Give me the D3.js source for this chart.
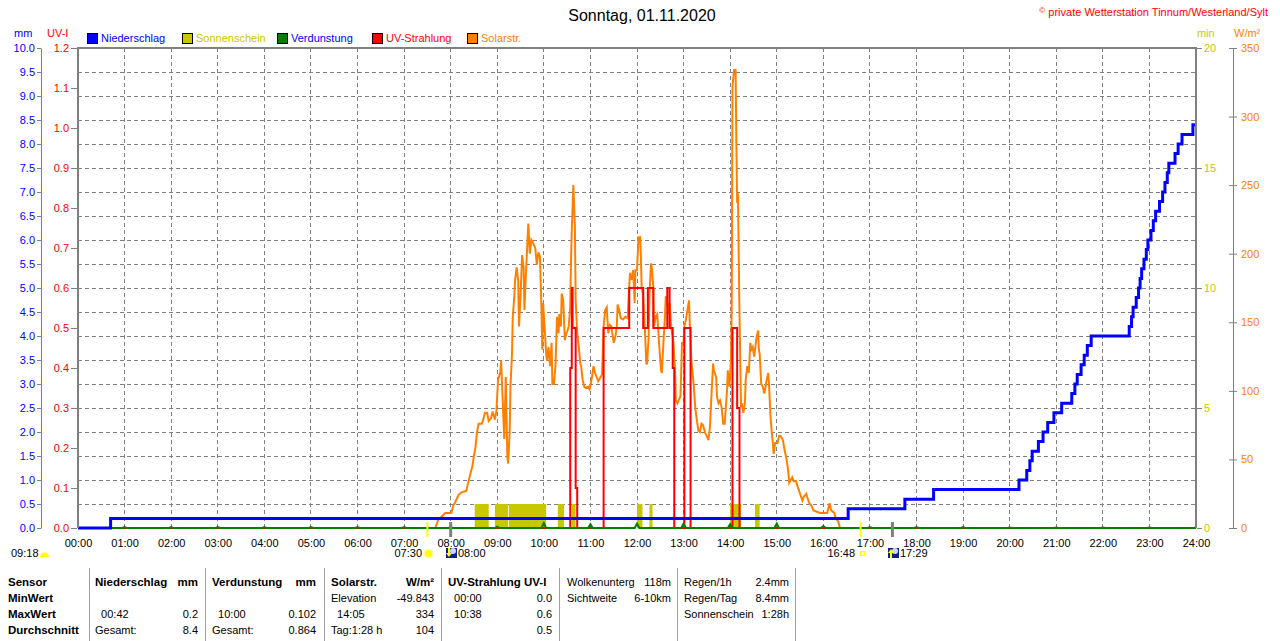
<!DOCTYPE html>
<html>
<head>
<meta charset="utf-8">
<script src="https://cdn.jsdelivr.net/npm/d3@7"></script>
<style>
body{margin:0;background:#fff}
svg{display:block;font-family:Arial,"Liberation Sans",sans-serif}
</style>
</head>
<body>
<script>
// Achsen / Ticks
const hours = d3.range(0, 25)
const mmTicks = d3.range(0, 10.01, 0.5)
const uvTicks = d3.range(0, 1.21, 0.1)
const minTicks = [0, 5, 10, 15, 20]
const wTicks = d3.range(0, 351, 50)

// Niederschlag, Summe in mm  [Minute des Tages, mm]
const rain = [[0,0],[42,0.2],[992,0.4],[1065,0.6],[1102,0.8],[1212,1.0],[1222,1.2],[1226,1.4],[1229,1.6],
  [1237,1.8],[1243,2.0],[1249,2.2],[1257,2.4],[1267,2.6],[1280,2.8],[1284,3.0],[1287,3.2],[1292,3.4],
  [1296,3.6],[1300,3.8],[1305,4.0],[1354,4.2],[1357,4.4],[1359,4.6],[1363,4.8],[1366,5.0],[1368,5.2],
  [1370,5.4],[1373,5.6],[1376,5.8],[1378,6.0],[1382,6.2],[1385,6.4],[1388,6.6],[1393,6.8],[1397,7.0],
  [1400,7.2],[1403,7.4],[1405,7.6],[1413,7.8],[1417,8.0],[1422,8.2],[1436,8.4],[1440,8.4]]

// UV-Index  [Minute, UV-I]
const uv = [[0,0],[634,0.4],[636,0.6],[637,0.5],[641,0.1],[643,0],[677,0.5],[710,0.6],[728,0.5],
  [734,0.6],[741,0.5],[759,0.6],[762,0.5],[766,0.4],[768,0],[781,0.5],[789,0],[843,0.5],[849,0.3],
  [852,0],[1440,0]]

// Verdunstung je Stunde (mm)
const evapHours = d3.range(1, 25)
const evapValues = [0.02,0.02,0.02,0.02,0.02,0.02,0.02,0.02,0.03,0.102,0.08,0.09,0.09,0.08,0.09,0.04,
  0.02,0.02,0.02,0.01,0.01,0.01,0.01,0.01]

// Sonnenschein  [von, bis, min]
const sunshine = [[511,529,1],[537,554,1],[555,603,1],[618,626,1],[636,641,1],[720,727,1],[736,740,1],
  [840,854,1],[872,878,1]]

// Solarstrahlung  [Minute, W/m²]
const solar = [[460,0],[464,6],[468,8],[473,11],[481,11],[483,16],[486,19],[490,24],[494,26],[500,27],
  [503,34],[506,41],[508,45],[510,53],[512,59],[514,70],[516,76],[520,76],[522,79],[524,84],[527,84],
  [529,78],[532,80],[534,85],[537,79],[539,86],[541,108],[544,114],[545,122],[547,93],[549,65],[550,87],
  [551,110],[553,52],[554,47],[556,69],[557,103],[559,127],[560,154],[562,169],[563,181],[565,190],
  [567,180],[568,147],[570,169],[572,199],[574,190],[575,159],[577,186],[579,210],[580,222],[582,200],
  [584,210],[586,208],[589,204],[591,192],[593,201],[595,198],[597,159],[598,130],[599,164],[601,147],
  [603,127],[604,122],[606,132],[608,118],[610,135],[611,105],[613,105],[615,118],[617,154],[619,142],
  [620,156],[622,147],[623,171],[625,166],[627,137],[629,142],[630,143],[632,147],[634,161],[635,195],
  [636,217],[638,250],[640,220],[641,166],[643,142],[645,132],[647,120],[648,118],[650,108],[652,103],
  [654,102],[657,103],[659,101],[662,110],[664,118],[666,113],[670,107],[675,112],[677,147],[679,159],
  [681,161],[683,142],[685,148],[687,147],[690,135],[692,139],[694,147],[695,163],[697,159],[699,153],
  [702,152],[705,154],[708,153],[709,166],[711,186],[713,181],[715,188],[717,164],[718,188],[720,188],
  [722,212],[724,212],[725,198],[726,176],[728,169],[730,147],[732,120],[733,120],[735,139],[736,169],
  [738,193],[739,190],[741,176],[742,147],[744,154],[746,156],[749,130],[751,115],[752,113],[754,135],
  [756,154],[757,169],[759,164],[761,156],[762,164],[764,147],[767,135],[769,115],[770,93],[772,91],
  [776,96],[778,135],[780,135],[781,147],[783,152],[785,159],[787,166],[788,149],[790,122],[793,105],
  [795,88],[797,79],[799,71],[801,70],[803,76],[805,75],[808,69],[810,67],[812,64],[814,74],[816,98],
  [818,120],[819,115],[822,110],[823,96],[825,91],[827,93],[829,88],[831,76],[833,76],[836,101],
  [837,115],[839,103],[841,122],[842,161],[843,322],[845,334],[847,334],[848,280],[849,237],[850,244],
  [852,156],[854,88],[855,91],[857,84],[859,91],[860,108],[862,118],[864,113],[866,135],[867,130],
  [869,132],[871,125],[872,130],[874,139],[876,144],[877,130],[878,127],[880,105],[882,103],[884,98],
  [885,101],[887,108],[889,113],[890,105],[892,81],[894,67],[895,62],[896,54],[898,62],[901,62],
  [903,67],[905,67],[908,64],[910,57],[912,52],[914,45],[915,40],[916,33],[918,35],[920,37],[922,34],
  [925,34],[927,30],[930,25],[933,20],[935,23],[938,25],[939,23],[942,18],[945,16],[947,13],[951,12],
  [956,11],[962,11],[965,11],[968,18],[970,13],[974,11],[976,7],[979,5],[981,1],[982,0]]

// Legende
const legendNames = ["Niederschlag", "Sonnenschein", "Verdunstung", "UV-Strahlung", "Solarstr."]
const legendBox = ["#0000ff", "#c8c800", "#008000", "#ff0000", "#ff8000"]
const legendText = ["#0000ff", "#c8c800", "#0000ff", "#ff0000", "#ff8000"]

// Tabelle unten
const tableLeft = [
  ["Sensor", "MinWert", "MaxWert", "Durchschnitt"],
  ["Niederschlag", "", "  00:42", "Gesamt:"],
  ["Verdunstung", "", "  10:00", "Gesamt:"],
  ["Solarstr.", "Elevation", "  14:05", "Tag:1:28 h"],
  ["UV-Strahlung UV-I", "  00:00", "  10:38", ""],
  ["Wolkenunterg", "Sichtweite", "", ""],
  ["Regen/1h", "Regen/Tag", "Sonnenschein", ""]
]
const tableRight = [
  ["", "", "", ""],
  ["mm", "", "0.2", "8.4"],
  ["mm", "", "0.102", "0.864"],
  ["W/m²", "-49.843", "334", "104"],
  ["", "0.0", "0.6", "0.5"],
  ["118m", "6-10km", "", ""],
  ["2.4mm", "8.4mm", "1:28h", ""]
]

const width = 1280
const height = 641
const grey = "#808080"

const svg = d3.select("body").append("svg")
  .attr("width", width)
  .attr("height", height)

const x = d3.scaleLinear().domain([0, 1440]).range([78, 1196])
const yMm = d3.scaleLinear().domain([0, 10]).range([528, 48])
const yUv = d3.scaleLinear().domain([0, 1.2]).range([528, 48])
const yMin = d3.scaleLinear().domain([0, 20]).range([528, 48])
const yW = d3.scaleLinear().domain([0, 350]).range([528, 48])

// Gitter
const grid = svg.append("g").attr("stroke", grey).attr("stroke-dasharray", "4,3")
  .attr("shape-rendering", "crispEdges")
grid.selectAll(".h").data(mmTicks.slice(1, -1)).enter().append("line")
  .attr("x1", 78).attr("x2", 1196)
  .attr("y1", d => yMm(d)).attr("y2", d => yMm(d))
grid.selectAll(".v").data(hours.slice(1, -1)).enter().append("line")
  .attr("x1", d => x(d * 60)).attr("x2", d => x(d * 60))
  .attr("y1", 48).attr("y2", 528)

// Sonnenschein
svg.append("g").selectAll("rect").data(sunshine).enter().append("rect")
  .attr("x", d => x(d[0]))
  .attr("width", d => x(d[1]) - x(d[0]))
  .attr("y", d => yMin(d[2]))
  .attr("height", d => yMin(0) - yMin(d[2]))
  .attr("fill", "#c8c800")

// Solarstrahlung
svg.append("path").datum(solar)
  .attr("d", d3.line().x(d => x(d[0])).y(d => yW(d[1])))
  .attr("fill", "none").attr("stroke", "#ff8000").attr("stroke-width", 2)

// UV
svg.append("path").datum(uv)
  .attr("d", d3.line().curve(d3.curveStepAfter).x(d => x(d[0])).y(d => yUv(d[1])))
  .attr("fill", "none").attr("stroke", "#ff0000").attr("stroke-width", 2)

// Verdunstung
const evap = [[0, 0]]
evapHours.forEach((h, i) => {
  evap.push([h * 60 - 3, 0], [h * 60, evapValues[i]], [Math.min(h * 60 + 3, 1440), 0])
})
svg.append("path").datum(evap)
  .attr("d", d3.line().x(d => x(d[0])).y(d => yMm(d[1])))
  .attr("fill", "none").attr("stroke", "#008000").attr("stroke-width", 2)

// Niederschlag
svg.append("path").datum(rain)
  .attr("d", d3.line().curve(d3.curveStepAfter).x(d => x(d[0])).y(d => yMm(d[1])))
  .attr("fill", "none").attr("stroke", "#0000ff").attr("stroke-width", 3)

// Rahmen
svg.append("path")
  .attr("d", "M78,528V48H1196V528")
  .attr("fill", "none").attr("stroke", grey).attr("stroke-width", 2)

function styleAxis(g, color, size) {
  g.attr("font-family", null).attr("font-size", size)
  g.selectAll(".tick line").attr("stroke", grey)
  g.selectAll(".domain").attr("stroke", grey)
  g.selectAll("text").attr("fill", color)
}

// linke Achsen
svg.append("g").attr("transform", "translate(41,0)")
  .call(d3.axisLeft(yMm).tickValues(mmTicks).tickFormat(d3.format(".1f"))
    .tickSize(4).tickSizeOuter(0).tickPadding(2))
  .call(g => styleAxis(g, "#0000ff", 11))

svg.append("g").attr("transform", "translate(77,0)")
  .call(d3.axisLeft(yUv).tickValues(uvTicks).tickFormat(d3.format(".1f"))
    .tickSize(6).tickPadding(2))
  .call(g => g.select(".domain").remove())
  .call(g => styleAxis(g, "#ff0000", 11))

// rechte Achsen
svg.append("g").attr("transform", "translate(1197,0)")
  .call(d3.axisRight(yMin).tickValues(minTicks).tickSize(5).tickPadding(2))
  .call(g => g.select(".domain").remove())
  .call(g => styleAxis(g, "#c8c800", 11))

svg.append("g").attr("transform", "translate(1233,0)")
  .call(d3.axisRight(yW).tickValues(wTicks).tickSize(4).tickSizeOuter(0).tickPadding(4))
  .call(g => g.selectAll(".tick line").attr("x1", -4))
  .call(g => styleAxis(g, "#ff8000", 11))

// Zeitachse
svg.append("g").attr("transform", "translate(0,528)")
  .call(d3.axisBottom(x).tickValues(hours.map(h => h * 60))
    .tickFormat(m => d3.format("02")(m / 60) + ":00").tickSize(0).tickPadding(11))
  .call(g => g.select(".domain").remove())
  .call(g => styleAxis(g, "#000", 11))

// Titel
svg.append("text").attr("x", 642).attr("y", 15).attr("dy", "0.35em")
  .attr("text-anchor", "middle").attr("font-size", 16).text("Sonntag, 01.11.2020")

const copy = svg.append("text").attr("x", 1268).attr("y", 12).attr("dy", "0.35em")
  .attr("text-anchor", "end").attr("font-size", 11).attr("fill", "#ff0000")
copy.append("tspan").attr("font-size", 8).attr("baseline-shift", "3").text("©")
copy.append("tspan").text(" private Wetterstation Tinnum/Westerland/Sylt")

// Einheiten
svg.append("text").attr("x", 14).attr("y", 33).attr("dy", "0.35em")
  .attr("font-size", 11).attr("fill", "#0000ff").text("mm")
svg.append("text").attr("x", 47).attr("y", 33).attr("dy", "0.35em")
  .attr("font-size", 11).attr("fill", "#ff0000").text("UV-I")
svg.append("text").attr("x", 1197).attr("y", 33).attr("dy", "0.35em")
  .attr("font-size", 11).attr("fill", "#c8c800").text("min")
svg.append("text").attr("x", 1234).attr("y", 33).attr("dy", "0.35em")
  .attr("font-size", 11).attr("fill", "#ff8000").text("W/m²")

// Legende
const leg = svg.append("g").selectAll("g").data(legendNames).enter().append("g")
  .attr("transform", (d, i) => `translate(${87 + i * 95},33)`)
leg.append("rect").attr("x", 0.5).attr("y", 0.5).attr("width", 10).attr("height", 10)
  .attr("fill", (d, i) => legendBox[i]).attr("stroke", "#000")
leg.append("text").attr("x", 14).attr("y", 5.5).attr("dy", "0.35em")
  .attr("font-size", 11).attr("fill", (d, i) => legendText[i]).text(d => d)

// Sonnenauf-/untergang Markierungen
const marks = [[450, "#ffff00", 2], [480, grey, 3], [1008, "#ffff00", 2], [1049, grey, 3]]
svg.append("g").selectAll("line").data(marks).enter().append("line")
  .attr("x1", d => x(d[0])).attr("x2", d => x(d[0]))
  .attr("y1", 522).attr("y2", 537)
  .attr("stroke", d => d[1]).attr("stroke-width", d => d[2])

const small = svg.append("g").attr("font-size", 11)
small.append("text").attr("x", 11).attr("y", 553).attr("dy", "0.35em").text("09:18")
small.append("path").attr("d", "M40,557A4.5,4.5 0 0 1 49,557Z").attr("fill", "#ffff00")
small.append("text").attr("x", 422).attr("y", 553).attr("dy", "0.35em")
  .attr("text-anchor", "end").text("07:30")
small.append("circle").attr("cx", 428.5).attr("cy", 553.5).attr("r", 5).attr("fill", "#ffffa0")
small.append("circle").attr("cx", 428.5).attr("cy", 553.5).attr("r", 3.5).attr("fill", "#ffff00")

function twilightIcon(x0, up) {
  const g = small.append("g").attr("transform", `translate(${x0},548)`)
  g.append("rect").attr("width", 11).attr("height", 10).attr("fill", "#10208a")
  g.append("circle").attr("cx", 7).attr("cy", 3).attr("r", 3).attr("fill", "#c8d8ff")
  g.append("path").attr("fill", "#ffff00")
    .attr("d", up ? "M3,1L6,5H4V10H2V5H0Z" : "M2,0H4V5H6L3,9L0,5H2Z")
}
twilightIcon(446, false)
small.append("text").attr("x", 458).attr("y", 553).attr("dy", "0.35em").text("08:00")
small.append("text").attr("x", 855).attr("y", 553).attr("dy", "0.35em")
  .attr("text-anchor", "end").text("16:48")
small.append("rect").attr("x", 860.5).attr("y", 551.5).attr("width", 4).attr("height", 4)
  .attr("fill", "none").attr("stroke", "#ffff00")
twilightIcon(888, true)
small.append("text").attr("x", 900).attr("y", 553).attr("dy", "0.35em").text("17:29")

// Tabelle
const sepX = [89, 205, 324, 441, 559, 677, 795]
const colLeft = [8, 95, 212, 331, 448, 567, 684]
const colRight = [0, 198, 316, 434, 552, 671, 789]
const rowY = [582, 598, 614, 630]

svg.append("g").selectAll("line").data(sepX).enter().append("line")
  .attr("x1", d => d + 0.5).attr("x2", d => d + 0.5).attr("y1", 568).attr("y2", 641)
  .attr("stroke", "#a0a0a0")

const tab = svg.append("g").attr("font-size", 11)
tableLeft.forEach((col, c) => {
  col.forEach((t, r) => {
    const bold = c === 0 || (r === 0 && c < 5)
    tab.append("text").attr("x", colLeft[c]).attr("y", rowY[r]).attr("dy", "0.35em")
      .attr("xml:space", "preserve").style("white-space", "pre")
      .attr("font-weight", bold ? "bold" : null).attr("font-size", bold ? 11.5 : 11)
      .text(t)
  })
})
tableRight.forEach((col, c) => {
  col.forEach((t, r) => {
    if (!t) return
    const bold = r === 0 && c < 5
    tab.append("text").attr("x", colRight[c]).attr("y", rowY[r]).attr("dy", "0.35em")
      .attr("text-anchor", "end")
      .attr("font-weight", bold ? "bold" : null).attr("font-size", bold ? 11.5 : 11)
      .text(t)
  })
})
</script>
</body>
</html>
